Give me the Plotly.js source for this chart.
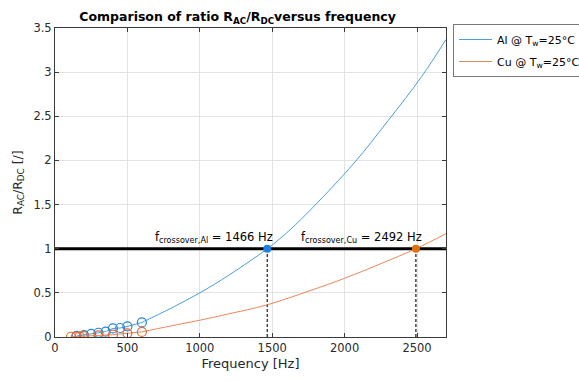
<!DOCTYPE html>
<html>
<head>
<meta charset="utf-8">
<script src="https://cdn.plot.ly/plotly-3.0.1.min.js"></script>
<style>html,body{margin:0;padding:0;background:#fff;}#chart{width:579px;height:382px;}</style>
</head>
<body>
<div id="chart"></div>
<script>
// Measured points (circles)
const alFreqMeas = [150, 200, 250, 300, 350, 400, 450, 500, 600];
const alRatioMeas = [0.012, 0.022, 0.035, 0.048, 0.062, 0.097, 0.102, 0.12, 0.165];
const cuFreqMeas = [110, 145, 170, 200, 300, 400, 500, 600];
const cuRatioMeas = [0.003, 0.005, 0.007, 0.01, 0.018, 0.026, 0.042, 0.058];

// Fitted curves
const alFreqFit = [600, 800, 1000, 1200, 1466, 1620, 1782, 2065, 2300, 2532, 2700];
const alRatioFit = [0.165, 0.325, 0.5, 0.70, 1.0, 1.21, 1.47, 1.97, 2.45, 2.95, 3.37];
const cuFreqFit = [600, 800, 1000, 1200, 1466, 1761, 2000, 2250, 2492, 2700];
const cuRatioFit = [0.058, 0.125, 0.19, 0.262, 0.365, 0.525, 0.665, 0.83, 1.0, 1.17];

// Crossover
const crossAl = 1466;
const crossCu = 2492;
const threshold = 1;
const xMax = 2700;
const yMax = 3.5;

const xTicks = [0, 500, 1000, 1500, 2000, 2500];
const yTicks = [0, 0.5, 1, 1.5, 2, 2.5, 3, 3.5];
const yTickText = ['0', '0.5', '1', '1.5', '2', '2.5', '3', '3.5'];

const blueLine = '#4a9fdc';
const blueMark = '#2b86d6';
const orangeLine = '#ec875c';
const orangeMark = '#e26d3c';
const FONT = 'DejaVu Sans, Verdana, sans-serif';

const traces = [
  {x: [0, xMax], y: [threshold, threshold], mode: 'lines', line: {color: '#000', width: 3}, showlegend: false, hoverinfo: 'skip'},
  {x: [crossAl, crossAl], y: [0, threshold], mode: 'lines', line: {color: '#444', width: 1.5, dash: '3px,2px'}, showlegend: false},
  {x: [crossCu, crossCu], y: [0, threshold], mode: 'lines', line: {color: '#444', width: 1.5, dash: '3px,2px'}, showlegend: false},
  {x: alFreqFit, y: alRatioFit, mode: 'lines', line: {color: blueLine, width: 1, shape: 'spline', smoothing: 1}, name: 'Al @ T<sub>w</sub>=25°C', legendgroup: 'al'},
  {x: cuFreqFit, y: cuRatioFit, mode: 'lines', line: {color: orangeLine, width: 1, shape: 'spline', smoothing: 1}, name: 'Cu @ T<sub>w</sub>=25°C', legendgroup: 'cu'},
  {x: alFreqMeas, y: alRatioMeas, mode: 'lines+markers', line: {color: blueLine, width: 1},
   marker: {symbol: 'circle-open', size: 9, color: blueMark, line: {width: 1.2}}, showlegend: false},
  {x: cuFreqMeas, y: cuRatioMeas, mode: 'lines+markers', line: {color: orangeLine, width: 1},
   marker: {symbol: 'circle-open', size: 9, color: orangeMark, line: {width: 1.2}}, showlegend: false},
  {x: [crossAl], y: [threshold], mode: 'markers', marker: {size: 8, color: '#1e80e0'}, showlegend: false},
  {x: [crossCu], y: [threshold], mode: 'markers', marker: {size: 8, color: '#e0700f'}, showlegend: false}
];

const axisCommon = {
  showline: true, mirror: 'ticks', linecolor: '#3a3a3a', linewidth: 1,
  ticks: 'inside', ticklen: 4, tickcolor: '#3a3a3a',
  showgrid: true, gridcolor: '#e3e3e3', gridwidth: 1, zeroline: false,
  tickfont: {family: FONT, size: 11.5, color: '#2a2a2a'}
};

const layout = {
  width: 579, height: 382,
  margin: {l: 55, r: 133, t: 28, b: 45},
  paper_bgcolor: '#fff', plot_bgcolor: '#fff',
  font: {family: FONT, color: '#262626'},
  title: {text: '<b>Comparison of ratio R<sub>AC</sub>/R<sub>DC</sub>versus frequency</b>',
          font: {family: FONT, size: 12.5, color: '#000'},
          x: 0.467, xref: 'paper', xanchor: 'center', y: 1, yref: 'paper', yanchor: 'bottom', pad: {b: 7}},
  xaxis: Object.assign({}, axisCommon, {range: [0, xMax], tickvals: xTicks,
    title: {text: 'Frequency [Hz]', font: {family: FONT, size: 13, color: '#262626'}, standoff: 5}}),
  yaxis: Object.assign({}, axisCommon, {range: [0, yMax], tickvals: yTicks, ticktext: yTickText,
    title: {text: 'R<sub>AC</sub>/R<sub>DC</sub> [/]', font: {family: FONT, size: 12.5, color: '#262626'}, standoff: 8}}),
  legend: {xref: 'container', yref: 'container', x: 453 / 579, xanchor: 'left', y: 1 - 24 / 382, yanchor: 'top', bgcolor: '#fff',
    bordercolor: '#777', borderwidth: 1, font: {family: FONT, size: 11, color: '#000'},
    itemwidth: 33, traceorder: 'grouped', tracegroupgap: 3},
  annotations: [
    {x: crossAl + 55, y: threshold, xref: 'x', yref: 'y', xanchor: 'right', yanchor: 'bottom', yshift: 2,
     text: 'f<sub>crossover,Al</sub> = ' + crossAl + ' Hz', showarrow: false, font: {family: FONT, size: 11.5, color: '#000'}},
    {x: crossCu + 55, y: threshold, xref: 'x', yref: 'y', xanchor: 'right', yanchor: 'bottom', yshift: 2,
     text: 'f<sub>crossover,Cu</sub> = ' + crossCu + ' Hz', showarrow: false, font: {family: FONT, size: 11.5, color: '#000'}}
  ],
  showlegend: true
};

Plotly.newPlot('chart', traces, layout, {displayModeBar: false, staticPlot: true});
</script>
</body>
</html>
